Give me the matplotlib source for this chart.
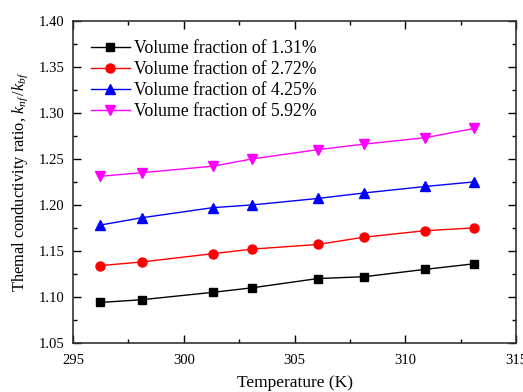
import matplotlib
matplotlib.use("Agg")
import matplotlib.pyplot as plt
from matplotlib.ticker import MultipleLocator

plt.rcParams['font.family'] = ['Liberation Serif', 'DejaVu Serif']
plt.rcParams['mathtext.fontset'] = 'custom'
plt.rcParams['mathtext.it'] = 'Liberation Serif:italic'
plt.rcParams['mathtext.rm'] = 'Liberation Serif'

temperature = [296.2, 298.1, 301.3, 303.1, 306.05, 308.15, 310.9, 313.1]
vf_131 = [1.094, 1.097, 1.105, 1.110, 1.120, 1.122, 1.130, 1.136]
vf_272 = [1.134, 1.138, 1.147, 1.152, 1.157, 1.165, 1.172, 1.175]
vf_425 = [1.178, 1.186, 1.197, 1.200, 1.207, 1.213, 1.220, 1.225]
vf_592 = [1.231, 1.235, 1.242, 1.250, 1.260, 1.266, 1.273, 1.283]
labels = ["Volume fraction of 1.31%", "Volume fraction of 2.72%",
          "Volume fraction of 4.25%", "Volume fraction of 5.92%"]

fig = plt.figure(figsize=(5.23, 3.92), dpi=100)
ax = fig.add_axes([0.1396, 0.125, 0.8470, 0.822])

series = [(vf_131, 'black', 's', 5.5), (vf_272, 'red', 'o', 6.5),
          (vf_425, 'blue', '^', 6.5), (vf_592, 'magenta', 'v', 6.5)]
for (ys, c, m, ms), lab in zip(series, labels):
    ax.plot(temperature, ys, color=c, marker=m, markersize=ms, linewidth=1, label=lab)

ax.set_xlim(295, 315)
ax.set_ylim(1.05, 1.40)
ax.xaxis.set_major_locator(MultipleLocator(5))
ax.xaxis.set_minor_locator(MultipleLocator(2.5))
ax.yaxis.set_major_locator(MultipleLocator(0.05))
ax.yaxis.set_minor_locator(MultipleLocator(0.025))
ax.yaxis.set_major_formatter(matplotlib.ticker.FormatStrFormatter('%.2f'))
ax.tick_params(which='both', direction='in', top=True, right=True, labelsize=10.5)
ax.tick_params(axis='x', pad=8)
ax.tick_params(axis='y', pad=6)
ax.tick_params(which='major', length=5.5, width=1)
ax.tick_params(which='minor', length=3, width=1)
for s in ax.spines.values():
    s.set_linewidth(1.2)
    s.set_color('#333333')

ax.set_xlabel("Temperature (K)", fontsize=12.5, labelpad=6)
ax.set_ylabel(r"Themal conductivity ratio, $k_{nf}\,/k_{bf}$", fontsize=11.8, labelpad=6)

ax.legend(loc='upper left', fontsize=12.7, frameon=False, handlelength=2.2,
          handletextpad=0.28, labelspacing=0.23, borderaxespad=0.0, borderpad=0.0,
          bbox_to_anchor=(0.04, 0.94))

fig.savefig("out.png", dpi=100)
